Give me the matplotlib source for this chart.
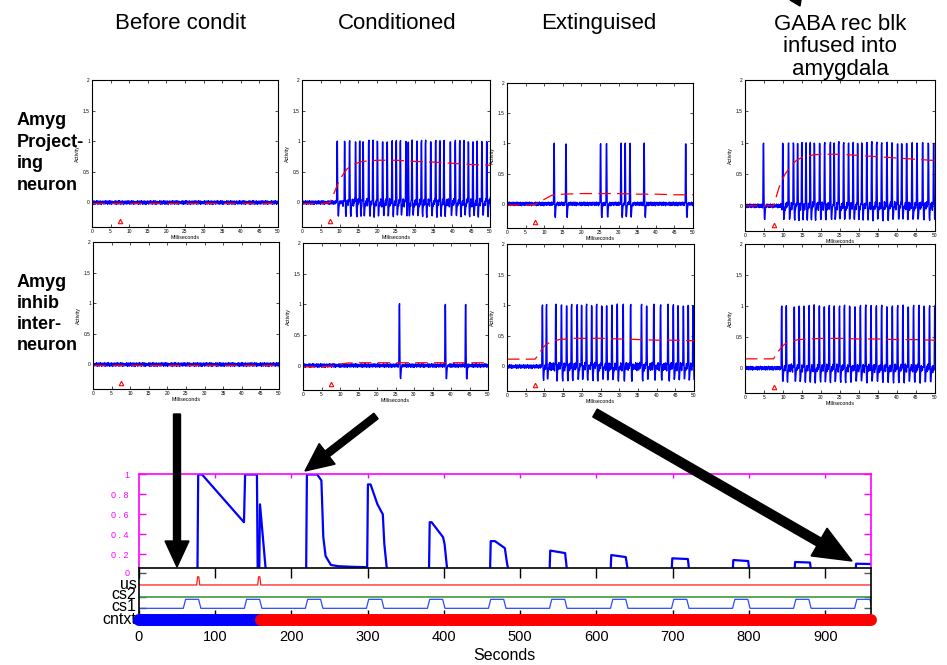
import numpy as np
import matplotlib
matplotlib.use('Agg')
import matplotlib.pyplot as plt
from matplotlib.patches import FancyArrow, Polygon
from matplotlib.transforms import blended_transform_factory

W, H = 947, 665

# ------------------------------------------------------------------ data
col_titles = ['Before condit', 'Conditioned', 'Extinguised',
              'GABA rec blk\ninfused into\namygdala']
row_labels = ['Amyg\nProject-\ning\nneuron', 'Amyg\ninhib\ninter-\nneuron']

# baseline membrane noise (typed texture values)
noise = [0.012, -0.021, 0.028, -0.008, 0.019, -0.031, 0.004, 0.025, -0.017, 0.009,
         -0.026, 0.021, -0.004, 0.031, -0.013, 0.016, -0.029, 0.007, 0.023, -0.019,
         0.002, -0.024, 0.027, -0.011, 0.014, -0.033, 0.018, 0.006, -0.015, 0.026,
         -0.006, 0.011, -0.027, 0.022, -0.002, 0.017, -0.022, 0.029, -0.009, 0.003,
         -0.018, 0.024, -0.028, 0.013, 0.008, -0.014, 0.030, -0.025, 0.001, 0.020,
         -0.010, 0.026, -0.032, 0.015, -0.005, 0.019, -0.020, 0.010, -0.016, 0.005]

# spike times (ms)
spk_proj_before = []
spk_proj_cond = [9.3, 11.3, 12.6, 14.2, 15.3, 16.2, 17.7, 18.8, 20.0, 21.4, 22.6, 23.9,
                 25.0, 26.1, 27.6, 28.2, 29.2, 30.5, 31.7, 32.8, 34.2, 35.5, 36.6, 37.7,
                 39.4, 40.7, 41.9, 43.0, 44.2, 45.4, 46.5, 47.8, 49.1]
spk_proj_ext = [12.6, 15.8, 25.1, 26.7, 30.6, 31.7, 33.0, 36.8, 48.0]
spk_proj_gaba = [4.8, 9.9, 11.4, 12.7, 13.8, 14.9, 16.0, 17.1, 18.2, 19.6, 20.9, 22.4,
                 23.4, 24.6, 25.9, 27.2, 28.4, 29.6, 30.7, 32.0, 33.3, 34.6, 35.9, 37.3,
                 38.6, 40.1, 41.2, 42.5, 43.9, 45.2, 46.7, 48.2, 49.6]
spk_inh_before = []
spk_inh_cond = [26.0, 38.4, 43.9]
spk_inh_ext = [9.4, 10.5, 13.0, 14.5, 15.9, 17.2, 18.7, 19.9, 21.2, 22.6, 23.9, 25.3,
               26.6, 28.0, 29.4, 31.0, 33.0, 35.9, 37.3, 39.2, 41.0, 43.0, 44.4, 45.7,
               47.1, 48.4, 49.7]
spk_inh_gaba = [9.6, 10.8, 12.9, 14.2, 15.5, 16.8, 18.1, 19.5, 20.8, 22.1, 23.4, 24.8,
                26.1, 27.5, 28.9, 30.3, 31.7, 33.1, 34.5, 35.9, 37.3, 38.7, 40.1, 41.5,
                42.9, 44.3, 45.7, 47.1, 48.5, 49.9]

# mean activity (red dashed)
red_proj_before_t = [0, 50]
red_proj_before_v = [0.0, 0.0]
red_proj_cond_t = [0, 5, 7.5, 8.5, 9.5, 10.5, 12, 14, 16, 18, 20, 25, 30, 35, 40, 45, 50]
red_proj_cond_v = [-0.02, -0.02, 0.0, 0.15, 0.3, 0.42, 0.55, 0.63, 0.67, 0.68, 0.69, 0.69,
                   0.67, 0.66, 0.64, 0.62, 0.61]
red_proj_ext_t = [0, 5, 7.5, 9, 10.5, 12, 15, 20, 25, 30, 35, 40, 45, 50]
red_proj_ext_v = [-0.02, -0.02, -0.01, 0.04, 0.09, 0.14, 0.16, 0.17, 0.17, 0.17, 0.16,
                  0.16, 0.15, 0.15]
red_proj_gaba_t = [0, 5, 7.5, 9, 10.5, 12, 13.5, 15, 18, 20, 25, 30, 35, 40, 45, 50]
red_proj_gaba_v = [0.0, 0.0, 0.0, 0.3, 0.5, 0.63, 0.72, 0.77, 0.81, 0.82, 0.82, 0.8, 0.78,
                   0.76, 0.74, 0.72]
red_inh_before_t = [0, 50]
red_inh_before_v = [0.0, 0.0]
red_inh_cond_t = [0, 5, 8, 10, 12, 15, 20, 30, 40, 50]
red_inh_cond_v = [-0.02, -0.02, -0.01, 0.02, 0.04, 0.045, 0.045, 0.045, 0.045, 0.045]
red_inh_ext_t = [0, 7.5, 8.5, 9.5, 10.5, 12, 14, 18, 20, 25, 30, 35, 40, 45, 50]
red_inh_ext_v = [0.12, 0.12, 0.2, 0.3, 0.36, 0.41, 0.44, 0.46, 0.46, 0.46, 0.45, 0.44,
                 0.43, 0.43, 0.42]
red_inh_gaba_t = [0, 7.5, 8.5, 9.5, 10.5, 12, 14, 17, 20, 25, 30, 35, 40, 45, 50]
red_inh_gaba_v = [0.15, 0.15, 0.25, 0.33, 0.39, 0.43, 0.46, 0.47, 0.48, 0.48, 0.47, 0.47,
                  0.46, 0.46, 0.45]

stim_t, stim_y = 7.5, -0.3
ms_ticks = [0, 5, 10, 15, 20, 25, 30, 35, 40, 45, 50]
act_ticks = [0, 0.5, 1, 1.5, 2]
act_ticklabels = ['0', '0.5', '1', '1.5', '2']

# bottom: learning curve over the session (seconds)
sec_ticks = [0, 100, 200, 300, 400, 500, 600, 700, 800, 900]
learn_t = [0, 77, 78, 80.5, 83, 138, 139.5, 155, 156, 158, 159, 167, 219.5, 220.5, 234,
           239.5, 242, 245, 252, 262, 280, 299.5, 300.5, 304, 313, 320, 322, 326, 380.5,
           381.5, 384, 399, 401, 405, 460.5, 461.5, 467, 480, 483, 486, 538.5, 539.5, 559,
           562, 618.5, 619.5, 638.5, 642, 698.5, 699.5, 720, 722, 778.5, 779.5, 799, 801,
           859.5, 860.5, 880, 882, 939.5, 940.5, 960]
learn_v = [0, 0, 1.0, 1.0, 1.0, 0.52, 1.0, 1.0, 0, 0, 0.7, 0, 0, 1.0, 1.0, 0.94, 0.37,
           0.18, 0.09, 0.078, 0.072, 0.068, 0.9, 0.9, 0.7, 0.6, 0.3, 0, 0, 0.52, 0.52, 0.37,
           0.3, 0, 0, 0.33, 0.33, 0.26, 0.1, 0, 0, 0.235, 0.21, 0, 0, 0.19, 0.17, 0, 0,
           0.157, 0.15, 0, 0, 0.14, 0.13, 0, 0, 0.12, 0.115, 0, 0, 0.103, 0.1]
learn_ticks = [0.2, 0.4, 0.6, 0.8, 1.0]
learn_ticklabels = ['0 . 2', '0 . 4', '0 . 6', '0 . 8', '1']

cs1_onsets = [60, 140, 220, 300, 380, 460, 540, 620, 700, 780, 860, 940]
cs1_duration = 20
us_times = [78, 158]
cntxt_blue = [0, 160]
cntxt_red = [160, 960]
track_names = ['us', 'cs2', 'cs1', 'cntxt']
track_levels = [3, 2, 1, 0]

# ------------------------------------------------------------------ helpers
plt.rcParams['font.family'] = ['Liberation Sans', 'DejaVu Sans']


def px_rect(x0, y0, x1, y1):
    return [x0 / W, 1 - y1 / H, (x1 - x0) / W, (y1 - y0) / H]


def trace(spikes, shift):
    t = np.round(np.arange(0, 50.05, 0.1), 2)
    y = np.roll(np.resize(np.array(noise), t.size), shift)
    if len(spikes) > 10:
        y[t > spikes[1] - 0.5] *= 2.2
    shape = [(-1, 0.03), (0, 0.98), (1, 1.0), (2, 0.15), (3, -0.2), (4, -0.22),
             (5, -0.1), (6, -0.03)]
    for s in spikes:
        i0 = int(round(s / 0.1))
        for off, val in shape:
            i = i0 + off
            if 0 <= i < t.size:
                y[i] = val + 0.3 * y[i]
    return t, y


fig = plt.figure(figsize=(W / 100, H / 100), dpi=100)

panels = [
    (px_rect(92, 80, 278, 227), spk_proj_before, red_proj_before_t, red_proj_before_v),
    (px_rect(302, 80, 490, 227), spk_proj_cond, red_proj_cond_t, red_proj_cond_v),
    (px_rect(507, 83, 693, 228), spk_proj_ext, red_proj_ext_t, red_proj_ext_v),
    (px_rect(745, 80, 935, 231), spk_proj_gaba, red_proj_gaba_t, red_proj_gaba_v),
    (px_rect(93, 242, 279, 389), spk_inh_before, red_inh_before_t, red_inh_before_v),
    (px_rect(303, 243, 488, 390), spk_inh_cond, red_inh_cond_t, red_inh_cond_v),
    (px_rect(507, 244, 694, 391), spk_inh_ext, red_inh_ext_t, red_inh_ext_v),
    (px_rect(745, 244, 935, 393), spk_inh_gaba, red_inh_gaba_t, red_inh_gaba_v),
]

for k, (rect, spk, rt, rv) in enumerate(panels):
    ax = fig.add_axes(rect)
    t, y = trace(spk, 7 * k)
    ax.plot(t, y, color='#0000ff', lw=1.0)
    ax.plot(rt, rv, color='#ff0000', lw=0.9, dashes=(10, 5))
    ax.plot([stim_t], [stim_y], marker='^', ms=3.2, mfc='none', mec='#ff0000', mew=0.8)
    ax.set_xlim(0, 50)
    ax.set_ylim(-0.4, 2)
    ax.set_xticks(ms_ticks)
    ax.set_yticks(act_ticks)
    ax.set_yticklabels(act_ticklabels)
    ax.tick_params(direction='in', top=True, right=True, length=2, width=0.5,
                   labelsize=3.5, pad=1.5)
    ax.set_xlabel('Milliseconds', fontsize=3.8, labelpad=1)
    ax.set_ylabel('Activity', fontsize=3.8, labelpad=2)
    for s in ax.spines.values():
        s.set_linewidth(0.8)

# column titles
fig.text(181 / W, 1 - 29 / H, col_titles[0], ha='center', va='baseline', fontsize=16)
fig.text(397 / W, 1 - 29 / H, col_titles[1], ha='center', va='baseline', fontsize=16)
fig.text(599 / W, 1 - 29 / H, col_titles[2], ha='center', va='baseline', fontsize=16)
fig.text(840 / W, 1 - 47 / H, col_titles[3], ha='center', va='center', fontsize=16,
         linespacing=1.12)

# row labels
fig.text(17 / W, 1 - 153 / H, row_labels[0], ha='left', va='center', fontsize=13,
         fontweight='bold', linespacing=1.35)
fig.text(17 / W, 1 - 314 / H, row_labels[1], ha='left', va='center', fontsize=13,
         fontweight='bold', linespacing=1.32)

# ------------------------------------------------------------------ bottom panels
MAG = '#ff00ff'
ax_top = fig.add_axes(px_rect(138.7, 474, 871, 567.7))
ax_top.set_zorder(1)
ax_top.plot(learn_t, learn_v, color='#0000ff', lw=1.6)
ax_top.set_xlim(0, 960)
ax_top.set_ylim(0.063, 1.005)
for side in ['top', 'left', 'right']:
    ax_top.spines[side].set_color(MAG)
    ax_top.spines[side].set_linewidth(1.2)
ax_top.spines['bottom'].set_visible(False)
ax_top.set_yticks(learn_ticks)
ax_top.set_yticklabels(learn_ticklabels)
ax_top.tick_params(axis='y', direction='in', left=True, right=True, colors=MAG,
                   length=5, width=1, labelsize=6.5, pad=7)
ax_top.set_xticks(sec_ticks[1:])
ax_top.tick_params(axis='x', direction='in', top=True, bottom=False, labeltop=False,
                   labelbottom=False, colors=MAG, length=3, width=1)
tr = blended_transform_factory(ax_top.transAxes, ax_top.transData)
ax_top.text(-0.0125, 0.0, '0', transform=tr, ha='right', va='center', fontsize=6.5,
            color=MAG, clip_on=False)

ax_low = fig.add_axes(px_rect(138.7, 567.7, 871, 620))
ax_low.set_zorder(2)
ax_low.set_xlim(0, 960)
ax_low.set_ylim(0, 4.48)

# cs1 pulses
cs_t, cs_v = [0], [1]
for on in cs1_onsets:
    off = min(on + cs1_duration, 960)
    cs_t += [on - 1.5, on + 1.5, off - 1.5, off + 1.5]
    cs_v += [1, 1.77, 1.77, 1]
cs_t.append(960)
cs_v.append(1)
ax_low.plot(cs_t, cs_v, color='#2a4bff', lw=0.9)
# cs2 flat
ax_low.plot([0, 960], [2, 2], color='#3f9a3f', lw=1.2)
# us pulses
us_t, us_v = [0], [3]
for u in us_times:
    us_t += [u - 2, u - 0.8, u + 0.8, u + 2]
    us_v += [3, 3.7, 3.7, 3]
us_t.append(960)
us_v.append(3)
ax_low.plot(us_t, us_v, color='#ff1a1a', lw=0.9)
# context bar
ax_low.plot(cntxt_blue, [0, 0], color='#0000ff', lw=8.6, solid_capstyle='round',
            clip_on=False, zorder=5)
ax_low.plot(cntxt_red, [0, 0], color='#ff0000', lw=8.6, solid_capstyle='round',
            clip_on=False, zorder=6)

ax_low.set_xticks(sec_ticks)
ax_low.set_xticklabels([str(v) for v in sec_ticks])
ax_low.tick_params(axis='x', direction='in', top=True, bottom=True, length=7, width=1,
                   labelsize=10.5, pad=7)
ax_low.set_yticks([1, 2, 4])
ax_low.set_yticklabels([])
ax_low.tick_params(axis='y', direction='in', left=True, right=True, length=5, width=1,
                   color='#555555')
for s in ax_low.spines.values():
    s.set_linewidth(1.2)
ax_low.set_xlabel('Seconds', fontsize=11.5, labelpad=3)

trl = blended_transform_factory(ax_low.transAxes, ax_low.transData)
for name, lvl in zip(track_names, track_levels):
    dy = 0.15 if lvl in (1, 2) else 0.0
    ax_low.text(-0.003, lvl + dy, name, transform=trl, ha='right', va='center',
                fontsize=11.5, clip_on=False)

# ------------------------------------------------------------------ arrows overlay
ov = fig.add_axes([0, 0, 1, 1])
ov.set_zorder(10)
ov.set_xlim(0, W)
ov.set_ylim(H, 0)
ov.axis('off')
ov.patch.set_visible(False)
ov.add_patch(FancyArrow(177, 414, 0, 153, width=7, head_width=24, head_length=26,
                        length_includes_head=True, color='black'))
ov.add_patch(FancyArrow(376, 416, -71, 55, width=7, head_width=26, head_length=28,
                        length_includes_head=True, color='black'))
ov.add_patch(FancyArrow(595, 413, 257, 148, width=9, head_width=32, head_length=38,
                        length_includes_head=True, color='black'))
ov.add_patch(Polygon([(790, 0), (801, 0), (800, 6)], closed=True, color='black'))

fig.savefig('out.png', dpi=100)
